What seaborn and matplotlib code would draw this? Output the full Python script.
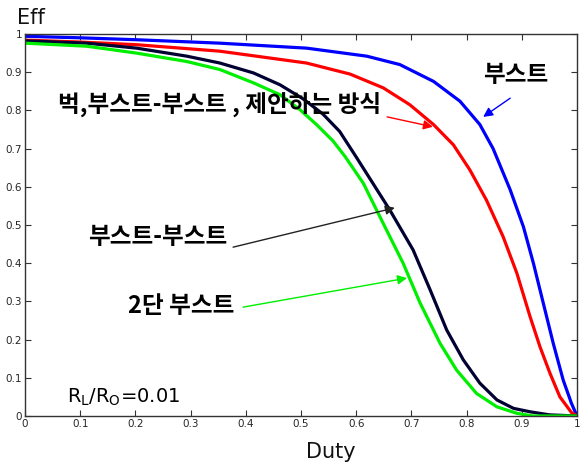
import numpy as np
import pandas as pd
import matplotlib
matplotlib.use("Agg")
import matplotlib.pyplot as plt
import seaborn as sns

# --- data ---
boost_x = [0, 0.1, 0.202, 0.353, 0.51, 0.619, 0.679, 0.74, 0.788, 0.824, 0.848, 0.879, 0.903, 0.921, 0.939, 0.957, 0.975, 0.99, 1.0]
boost_y = [0.994, 0.99, 0.985, 0.976, 0.963, 0.942, 0.92, 0.876, 0.824, 0.763, 0.70, 0.592, 0.495, 0.40, 0.295, 0.19, 0.094, 0.033, 0.0]

prop_x = [0, 0.1, 0.202, 0.353, 0.51, 0.589, 0.649, 0.697, 0.74, 0.776, 0.806, 0.836, 0.866, 0.891, 0.915, 0.933, 0.951, 0.969, 0.99, 1.0]
prop_y = [0.984, 0.979, 0.972, 0.955, 0.924, 0.895, 0.859, 0.815, 0.763, 0.71, 0.644, 0.565, 0.47, 0.374, 0.26, 0.181, 0.112, 0.05, 0.009, 0.0]

bb_x = [0, 0.112, 0.202, 0.293, 0.353, 0.414, 0.462, 0.504, 0.54, 0.57, 0.6, 0.661, 0.703, 0.734, 0.764, 0.794, 0.824, 0.855, 0.885, 0.915, 0.95, 1.0]
bb_y = [0.982, 0.976, 0.963, 0.942, 0.924, 0.898, 0.867, 0.83, 0.79, 0.745, 0.678, 0.539, 0.435, 0.33, 0.225, 0.147, 0.086, 0.042, 0.02, 0.011, 0.003, 0.0]

two_x = [0, 0.112, 0.202, 0.293, 0.353, 0.414, 0.462, 0.498, 0.528, 0.558, 0.58, 0.613, 0.649, 0.685, 0.716, 0.752, 0.782, 0.818, 0.855, 0.891, 0.92, 1.0]
two_y = [0.976, 0.968, 0.95, 0.928, 0.907, 0.872, 0.841, 0.802, 0.763, 0.72, 0.679, 0.609, 0.504, 0.40, 0.295, 0.19, 0.12, 0.059, 0.024, 0.007, 0.0, 0.0]

series_names = ["부스트", "제안하는 방식", "부스트-부스트", "2단 부스트"]
series_colors = ["#0000ff", "#ff0000", "#000033", "#00ee00"]
tick_vals = [0, 0.1, 0.2, 0.3, 0.4, 0.5, 0.6, 0.7, 0.8, 0.9, 1.0]
tick_labels = ["0", "0.1", "0.2", "0.3", "0.4", "0.5", "0.6", "0.7", "0.8", "0.9", "1"]

frames = []
for name, xs, ys in zip(series_names, [boost_x, prop_x, bb_x, two_x], [boost_y, prop_y, bb_y, two_y]):
    frames.append(pd.DataFrame({"Duty": xs, "Eff": ys, "series": name}))
df = pd.concat(frames, ignore_index=True)

sns.set_style("ticks")
plt.rcParams['font.family'] = ['Noto Sans CJK KR', 'DejaVu Sans']

fig = plt.figure(figsize=(5.85, 4.71), dpi=100)
ax = fig.add_axes([25/585, 1 - 416/471, 552/585, 382/471])

sns.lineplot(data=df, x="Duty", y="Eff", hue="series", hue_order=series_names,
             palette=dict(zip(series_names, series_colors)), sort=False,
             estimator=None, legend=False, linewidth=2.3, ax=ax)

ax.set_xlim(0, 1)
ax.set_ylim(0, 1)
ax.set_xticks(tick_vals)
ax.set_xticklabels(tick_labels, family='DejaVu Sans')
ax.set_yticks(tick_vals)
ax.set_yticklabels(tick_labels, family='DejaVu Sans')
ax.tick_params(direction='in', top=True, right=True, labelsize=7.5, length=4,
               color='#333333', pad=2)
for s in ax.spines.values():
    s.set_color('#333333')
    s.set_linewidth(1.0)

ax.set_xlabel("Duty", fontsize=15, family='DejaVu Sans', color='#111111')
ax.xaxis.set_label_coords(0.554, -0.068)
ax.set_ylabel("Eff", fontsize=15, family='DejaVu Sans', rotation=0,
              ha='center', va='center', color='#111111')
ax.yaxis.set_label_coords(0.011, 1.042)

kfont = dict(fontsize=17, fontweight='bold', color='black', va='center')
ax.text(0.888, 0.893, "부스트", ha='center', **kfont)
ax.text(0.060, 0.814, "벅,부스트-부스트 , 제안하는 방식", ha='left', **kfont)
ax.text(0.114, 0.469, "부스트-부스트", ha='left', **kfont)
ax.text(0.187, 0.288, "2단 부스트", ha='left', **kfont)
ax.text(0.076, 0.05, r"R$_\mathregular{L}$/R$_\mathregular{O}$=0.01", ha='left',
        va='center', fontsize=14, family='DejaVu Sans', color='black')

arrows = [((0.879, 0.832), (0.830, 0.783), "#0000ff"),
          ((0.656, 0.783), (0.739, 0.757), "#ff0000"),
          ((0.377, 0.442), (0.670, 0.545), "#222222"),
          ((0.395, 0.285), (0.692, 0.361), "#00ee00")]
for start, end, c in arrows:
    ax.annotate("", xy=end, xytext=start,
                arrowprops=dict(arrowstyle='-|>', color=c, lw=1.0,
                                mutation_scale=14, shrinkA=0, shrinkB=0))

fig.savefig("out.png", dpi=100, facecolor='white')
